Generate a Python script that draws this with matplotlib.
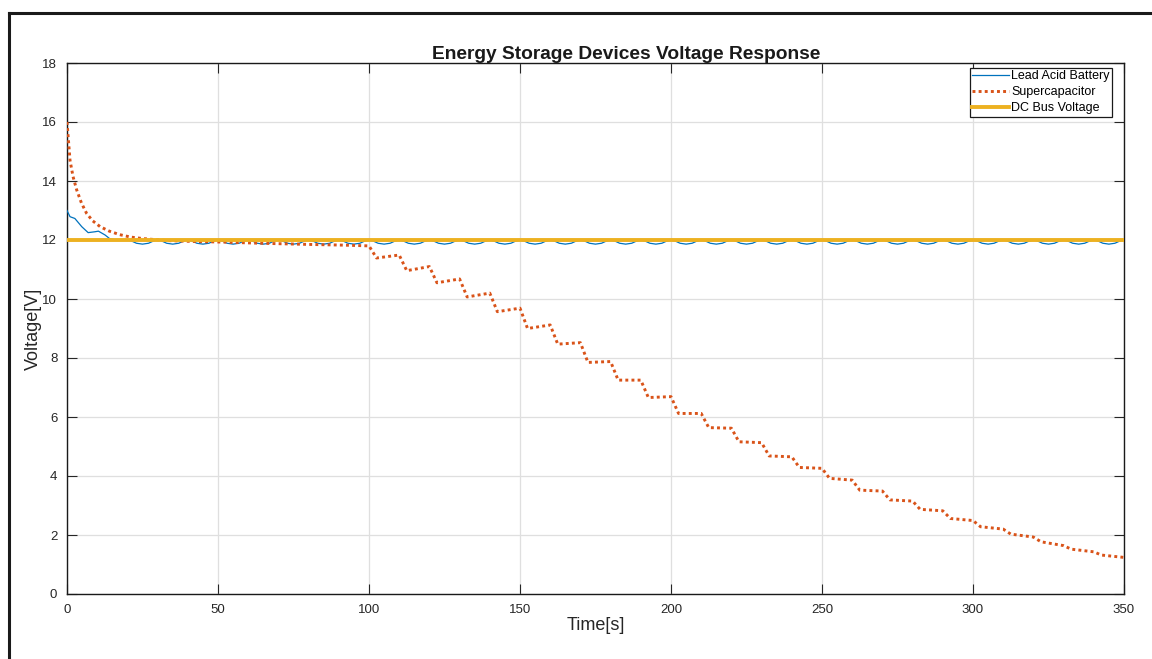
import numpy as np
import matplotlib
matplotlib.use("Agg")
import matplotlib.pyplot as plt
from matplotlib.lines import Line2D

plt.rcParams['font.family'] = ['Liberation Sans', 'DejaVu Sans']

# ---- data ----
# Lead acid battery: initial settling, then a repeating 10 s ripple around 12 V
battery_t0 = [0, 1, 2.6, 4.9, 7, 9.3, 10.4, 12.6, 14.2, 17, 20]
battery_v0 = [13.0, 12.79, 12.73, 12.45, 12.25, 12.28, 12.3, 12.17, 12.04, 11.99, 12.0]
ripple_offset = [0, 1.5, 3, 5, 7, 8.5, 10]
ripple_v = [12.0, 11.96, 11.89, 11.86, 11.89, 11.96, 12.0]
ripple_period = 10
ripple_end = 350

# Supercapacitor: exponential settling to ~12 V, then stepwise discharge every 10 s
cap_t0 = [0, 1, 2, 3.2, 4.8, 6.5, 8.5, 11, 14, 17.5, 21, 25, 33, 42, 51, 64, 80, 90, 97, 100]
cap_v0 = [16.0, 14.7, 14.15, 13.7, 13.25, 12.9, 12.65, 12.45, 12.3, 12.18, 12.1,
          12.05, 11.98, 11.95, 11.93, 11.89, 11.85, 11.83, 11.81, 11.8]
step_start = [100, 110, 120, 130, 140, 150, 160, 170, 180, 190, 200, 210, 220,
              230, 240, 250, 260, 270, 280, 290, 300, 310, 320, 330, 340]
step_low = [11.39, 10.96, 10.55, 10.07, 9.57, 9.0, 8.47, 7.85, 7.25, 6.66, 6.12, 5.64,
            5.16, 4.68, 4.29, 3.92, 3.52, 3.19, 2.87, 2.56, 2.28, 2.03, 1.77, 1.52, 1.32]
step_end = [11.49, 11.1, 10.68, 10.2, 9.69, 9.12, 8.52, 7.88, 7.25, 6.69, 6.12, 5.62,
            5.13, 4.65, 4.26, 3.86, 3.49, 3.15, 2.82, 2.49, 2.2, 1.93, 1.64, 1.43, 1.24]
step_drop_time = 2.5
step_length = 10

# DC bus reference
bus_t = [0, 350]
bus_v = [12, 12]

x_ticks = [0, 50, 100, 150, 200, 250, 300, 350]
y_ticks = [0, 2, 4, 6, 8, 10, 12, 14, 16, 18]

# ---- build traces ----
bt = list(battery_t0)
bv = list(battery_v0)
for start in np.arange(battery_t0[-1], ripple_end, ripple_period):
    for off, v in zip(ripple_offset[1:], ripple_v[1:]):
        bt.append(start + off)
        bv.append(v)

ct = list(cap_t0)
cv = list(cap_v0)
for s, lo, hi in zip(step_start, step_low, step_end):
    ct += [s + step_drop_time, s + step_length]
    cv += [lo, hi]

# ---- figure ----
W, H = 1152, 659
fig = plt.figure(figsize=(W / 100, H / 100), dpi=100)
fig.patch.set_facecolor('white')

# outer frame line
fx = 9 / W
fy = 1 - 13 / H
fig.add_artist(Line2D([fx, fx], [-0.01, fy], transform=fig.transFigure,
                      color='#1a1a1a', lw=2.2, solid_capstyle='projecting'))
fig.add_artist(Line2D([fx, 1.01], [fy, fy], transform=fig.transFigure,
                      color='#1a1a1a', lw=2.2, solid_capstyle='projecting'))

left, right, top, bottom = 67, 1124, 63, 594
ax = fig.add_axes([left / W, 1 - bottom / H, (right - left) / W, (bottom - top) / H])

ax.plot(bt, bv, color='#0072BD', lw=0.9, label='Lead Acid Battery', zorder=3)
ax.plot(ct, cv, color='#D95319', lw=2.1, linestyle=(0, (1, 1.1)),
        dash_capstyle='butt', label='Supercapacitor', zorder=4)
ax.plot(bus_t, bus_v, color='#EDB120', lw=2.8, label='DC Bus Voltage', zorder=5)

ax.set_xlim(0, 350)
ax.set_ylim(0, 18)
ax.set_xticks(x_ticks)
ax.set_yticks(y_ticks)
ax.tick_params(axis='both', direction='in', length=7, width=0.8, colors='#262626',
               labelsize=9.5, top=True, right=True)
ax.tick_params(axis='x', pad=7)
ax.tick_params(axis='y', pad=7)
ax.grid(True, color='#dfdfdf', lw=0.9)
ax.set_axisbelow(True)
for sp in ax.spines.values():
    sp.set_color('#1a1a1a')
    sp.set_linewidth(1.0)

ax.set_xlabel('Time[s]', fontsize=13, color='#262626', labelpad=1)
ax.set_ylabel('Voltage[V]', fontsize=13, color='#262626', labelpad=0)
ax.set_title('Energy Storage Devices Voltage Response', fontsize=13.8, fontweight='bold',
             color='#1a1a1a', x=0.529, pad=3)

leg = ax.legend(loc='upper right', bbox_to_anchor=((1112 - left) / (right - left),
                                                   1 - (68 - top) / (bottom - top)),
                borderaxespad=0, fontsize=9, fancybox=False, framealpha=1,
                edgecolor='#1a1a1a', handlelength=2.9, handletextpad=0.2,
                labelspacing=0.3, borderpad=0.2)
leg.get_frame().set_linewidth(0.9)

fig.savefig('out.png', dpi=100, facecolor='white')
